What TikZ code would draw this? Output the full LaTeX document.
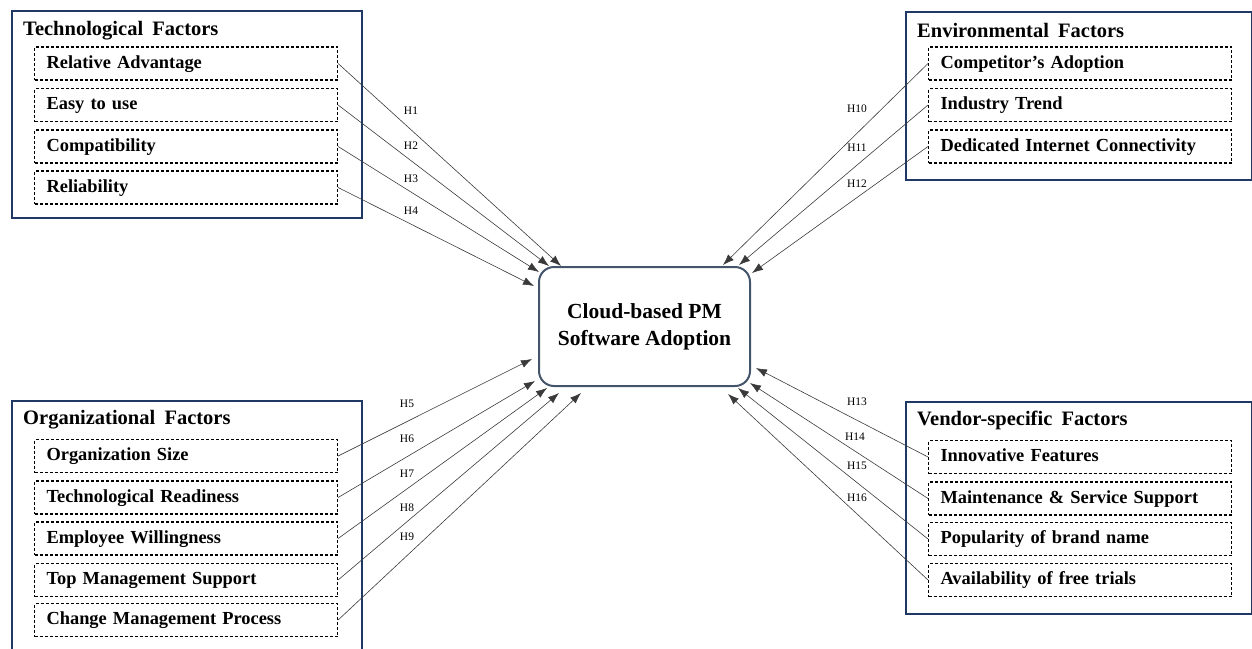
\documentclass[tikz,border=0pt]{standalone}
\usepackage{fontspec}
\setmainfont{Liberation Serif}
\usetikzlibrary{arrows.meta}
\definecolor{navy}{HTML}{203864}
\definecolor{slate}{HTML}{44546A}
\definecolor{wire}{HTML}{3A3A3A}
\tikzset{
  group/.style={draw=navy, line width=2.2pt, anchor=north west, inner sep=0pt},
  grouptitle/.style={anchor=west, inner sep=0pt, font=\fontsize{20.5}{22}\selectfont\bfseries},
  item/.style={draw=black, line width=1.1pt, dash pattern=on 3pt off 2pt, anchor=west,
    text width=279pt, inner xsep=12pt, inner ysep=0pt, minimum height=33pt,
    text height=13pt, text depth=4pt, align=left, font=\fontsize{18.4}{20}\selectfont\bfseries},
  core/.style={draw=slate, line width=2pt, rounded corners=15pt, minimum width=211pt,
    minimum height=119pt, align=center, font=\fontsize{21.5}{27}\selectfont\bfseries},
  arr/.style={draw=wire, line width=0.6pt, -{Latex[length=11pt,width=8pt]}},
  hyp/.style={inner sep=0pt, font=\fontsize{11.5}{12}\selectfont}
}
\begin{document}
\begin{tikzpicture}[x=1pt,y=-1pt]
\useasboundingbox (0,0) rectangle (1252,648);

% central construct
\node[core] (cb) at (644.5,326.5) {Cloud-based PM\\Software Adoption};

% technological group
\node[group, minimum width=350pt, minimum height=207pt] (tg) at (11,10) {};
\node[grouptitle] (tgt) at (23,31) {Technological\hspace{0.45em}Factors};
\node[item] (t1) at (34,63.5) {Relative Advantage};
\node[item] (t2) at (34,105) {Easy to use};
\node[item] (t3) at (34,146.5) {Compatibility};
\node[item] (t4) at (34,187.5) {Reliability};

% environmental group
\node[group, minimum width=346pt, minimum height=168pt] (eg) at (905,11) {};
\node[grouptitle] (egt) at (917,30) {Environmental\hspace{0.45em}Factors};
\node[item] (e1) at (928,63.5) {Competitor’s Adoption};
\node[item] (e2) at (928,105) {Industry Trend};
\node[item] (e3) at (928,146.5) {Dedicated Internet Connectivity};

% organizational group
\node[group, minimum width=350pt, minimum height=260pt] (og) at (11,400) {};
\node[grouptitle] (ogt) at (23,420) {Organizational\hspace{0.45em}Factors};
\node[item] (o1) at (34,456) {Organization Size};
\node[item] (o2) at (34,497.5) {Technological Readiness};
\node[item] (o3) at (34,538.5) {Employee Willingness};
\node[item] (o4) at (34,580) {Top Management Support};
\node[item] (o5) at (34,620) {Change Management Process};

% vendor-specific group
\node[group, minimum width=346pt, minimum height=212pt] (vg) at (905,401) {};
\node[grouptitle] (vgt) at (917,420) {Vendor-specific\hspace{0.45em}Factors};
\node[item] (v1) at (928,457) {Innovative Features};
\node[item] (v2) at (928,498.5) {Maintenance \& Service Support};
\node[item] (v3) at (928,539) {Popularity of brand name};
\node[item] (v4) at (928,580) {Availability of free trials};

% hypotheses H1-H4
\draw[arr] (t1.east) -- ([shift={(23,0)}]cb.north west);
\draw[arr] (t2.east) -- ([shift={(11,0)}]cb.north west);
\draw[arr] (t3.east) -- ([shift={(1,6)}]cb.north west);
\draw[arr] (t4.east) -- ([shift={(-4,20)}]cb.north west);
\node[hyp] (h1) at (411,111) {H1};
\node[hyp] (h2) at (411,146) {H2};
\node[hyp] (h3) at (411,179) {H3};
\node[hyp] (h4) at (411,211) {H4};

% hypotheses H5-H9
\draw[arr] (o1.east) -- ([shift={(-6,-28)}]cb.south west);
\draw[arr] (o2.east) -- ([shift={(-3,-6)}]cb.south west);
\draw[arr] (o3.east) -- ([shift={(9,1)}]cb.south west);
\draw[arr] (o4.east) -- ([shift={(21,6)}]cb.south west);
\draw[arr] (o5.east) -- ([shift={(43,6)}]cb.south west);
\node[hyp] (h5) at (407,404) {H5};
\node[hyp] (h6) at (407,439) {H6};
\node[hyp] (h7) at (407,474) {H7};
\node[hyp] (h8) at (407,508) {H8};
\node[hyp] (h9) at (407,537) {H9};

% hypotheses H10-H12
\draw[arr] (e1.west) -- ([shift={(-28,-1)}]cb.north east);
\draw[arr] (e2.west) -- ([shift={(-12,-1)}]cb.north east);
\draw[arr] (e3.west) -- ([shift={(1,7)}]cb.north east);
\node[hyp] (h10) at (857,109) {H10};
\node[hyp] (h11) at (857,148) {H11};
\node[hyp] (h12) at (857,184) {H12};

% hypotheses H13-H16
\draw[arr] (v1.west) -- ([shift={(5,-19)}]cb.south east);
\draw[arr] (v2.west) -- ([shift={(-1,-4)}]cb.south east);
\draw[arr] (v3.west) -- ([shift={(-13,1)}]cb.south east);
\draw[arr] (v4.west) -- ([shift={(-23,7)}]cb.south east);
\node[hyp] (h13) at (857,402) {H13};
\node[hyp] (h14) at (855,437) {H14};
\node[hyp] (h15) at (857,466) {H15};
\node[hyp] (h16) at (857,498) {H16};
\end{tikzpicture}
\end{document}
